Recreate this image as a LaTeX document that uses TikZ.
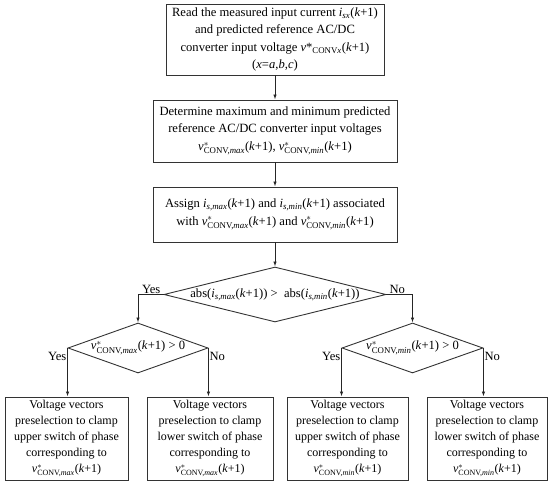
\documentclass[tikz,border=0pt]{standalone}
\usepackage{fontspec}
\setmainfont{Liberation Serif}
\usepackage{amsmath}
\usetikzlibrary{arrows.meta,shapes.geometric}
\newcommand\vc[1]{\textit{v}$^{*}_{\text{CONV,\textit{#1}}}$(\textit{k}+1)}
\newcommand\kp{(\textit{k}+1)}
\begin{document}
\begin{tikzpicture}[x=1pt,y=-1pt,
  every node/.style={font=\fontsize{12.6}{17.5}\selectfont},
  box/.style={draw=black!80, line width=0.9pt, rectangle, inner sep=0pt, align=center},
  obox/.style={box, minimum height=83pt, font=\fontsize{12}{16}\selectfont},
  dia/.style={draw=black!80, line width=0.9pt, diamond, inner sep=0pt},
  lbl/.style={inner sep=1pt},
  arr/.style={draw=black!85, line width=0.9pt, -{Latex[length=5pt,width=3.5pt]}}
]
\useasboundingbox (0,0) rectangle (550,486);
\node[box, minimum width=218pt, minimum height=71pt] (b1) at (275,39.5)
  {Read the measured input current \textit{i}$_{\text{\textit{sx}}}$\kp\\
   and predicted reference AC/DC\\
   converter input voltage \textit{v}*$_{\text{CONV\textit{x}}}$\kp\\
   (\textit{x}=\textit{a},\textit{b},\textit{c})};
\node[box, minimum width=244pt, minimum height=62pt] (b2) at (275,131)
  {Determine maximum and minimum predicted\\
   reference AC/DC converter input voltages\\
   \vc{max}, \vc{min}};
\node[box, minimum width=244pt, minimum height=55pt] (b3) at (275,214.5)
  {Assign \textit{i}$_{\text{\textit{s,max}}}$\kp{} and \textit{i}$_{\text{\textit{s,min}}}$\kp{} associated\\
   with \vc{max} and \vc{min}};
\node[dia, minimum width=222pt, minimum height=55pt] (d0) at (275,294.5)
  {\makebox[0pt]{abs(\textit{i}$_{\text{\textit{s,max}}}$\kp) >\ \ abs(\textit{i}$_{\text{\textit{s,min}}}$\kp)}};
\node[dia, minimum width=140pt, minimum height=50pt] (d1) at (138,348)
  {\makebox[0pt]{\raisebox{1pt}{\vc{max} > 0}}};
\node[dia, minimum width=141pt, minimum height=50pt] (d2) at (412.5,348)
  {\makebox[0pt]{\raisebox{1pt}{\vc{min} > 0}}};
\node[obox, minimum width=123pt] (o1) at (66.5,438.5)
  {Voltage vectors\\ preselection to clamp\\ upper switch of phase\\ corresponding to\\ \vc{max}};
\node[obox, minimum width=126pt] (o2) at (210,438.5)
  {Voltage vectors\\ preselection to clamp\\ lower switch of phase\\ corresponding to\\ \vc{max}};
\node[obox, minimum width=121pt] (o3) at (347.5,438.5)
  {Voltage vectors\\ preselection to clamp\\ upper switch of phase\\ corresponding to\\ \vc{min}};
\node[obox, minimum width=120pt] (o4) at (487,438.5)
  {Voltage vectors\\ preselection to clamp\\ lower switch of phase\\ corresponding to\\ \vc{min}};
% connectors
\draw[arr] (b1) -- (b2);
\draw[arr] (b2) -- (b3);
\draw[arr] (b3) -- (d0);
\draw[arr] (d0.west) -| (d1.north);
\draw[arr] (d0.east) -| (d2.north);
\draw[arr] (d1.west) -- (d1.west |- o1.north);
\draw[arr] (d1.east) -- (d1.east |- o2.north);
\draw[arr] (d2.west) -- (d2.west |- o3.north);
\draw[arr] (d2.east) -- (d2.east |- o4.north);
% labels
\node[lbl, anchor=south east] (y0) at ([xshift=-2pt]d0.west) {Yes};
\node[lbl, anchor=south west] (n0) at ([xshift=2pt]d0.east) {No};
\node[lbl, anchor=north east] (y1) at ([yshift=-3pt]d1.west) {Yes};
\node[lbl, anchor=north west] (n1) at ([yshift=-3pt]d1.east) {No};
\node[lbl, anchor=north east] (y2) at ([yshift=-3pt]d2.west) {Yes};
\node[lbl, anchor=north west] (n2) at ([yshift=-3pt]d2.east) {No};
\end{tikzpicture}
\end{document}
